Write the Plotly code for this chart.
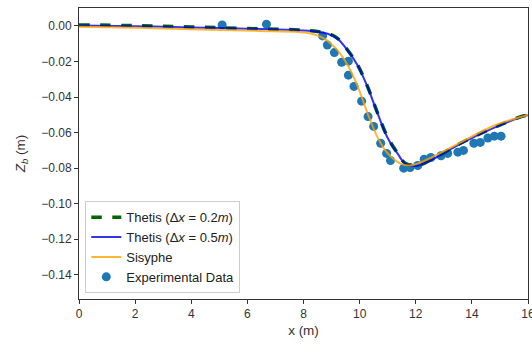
import plotly.graph_objects as go

# Experimental data
exp_x = [5.1, 6.68, 8.68, 8.85, 9.1, 9.36, 9.6, 9.6, 9.8, 10.07, 10.3, 10.5, 10.75,
         10.96, 11.1, 11.57, 11.8, 12.07, 12.3, 12.54, 12.9, 13.14, 13.5, 13.7,
         14.07, 14.3, 14.57, 14.8, 15.04]
exp_y = [0.0006, 0.001, -0.0056, -0.0107, -0.015, -0.0204, -0.0198, -0.0277, -0.034,
         -0.0423, -0.051, -0.0565, -0.066, -0.0717, -0.0757, -0.080, -0.0796, -0.0785,
         -0.075, -0.074, -0.073, -0.0717, -0.071, -0.070, -0.066, -0.0655, -0.063,
         -0.062, -0.062]

# Thetis dx=0.2
t02_x = [0, 2, 4, 6.46, 8.0, 8.5, 8.86, 9.2, 9.57, 9.93, 10.28, 10.64, 11.0, 11.36, 11.64,
         12.07, 12.64, 13.6, 14.8, 15.86, 16]
t02_y = [0.0006, 0.0002, -0.0006, -0.0016, -0.0024, -0.0031, -0.0042, -0.0068, -0.0135,
         -0.022, -0.034, -0.049, -0.0627, -0.0717, -0.0774, -0.0785, -0.0745, -0.066,
         -0.057, -0.0505, -0.0502]

# Thetis dx=0.5
t05_x = [0, 2, 4, 6.46, 8.0, 8.5, 8.86, 9.2, 9.57, 9.93, 10.28, 10.64, 11.0, 11.36, 11.64,
         12.07, 12.64, 13.6, 14.8, 15.86, 16]
t05_y = [0.0003, -0.0001, -0.0008, -0.0017, -0.0025, -0.0032, -0.0044, -0.007, -0.0137,
         -0.0222, -0.0342, -0.0492, -0.063, -0.072, -0.0776, -0.0786, -0.0747, -0.0662,
         -0.0572, -0.0507, -0.0503]

# Sisyphe
sis_x = [0, 2, 4, 6.46, 7.8, 8.25, 8.71, 9.2, 9.57, 9.93, 10.28, 10.64, 11.0, 11.46, 11.82,
         12.43, 13.6, 14.8, 16]
sis_y = [-0.0005, -0.001, -0.0018, -0.0028, -0.0034, -0.0042, -0.0068, -0.0135, -0.022,
         -0.034, -0.049, -0.0627, -0.0717, -0.0774, -0.0785, -0.075, -0.0655, -0.056, -0.050]

x_ticks = [0, 2, 4, 6, 8, 10, 12, 14, 16]
y_ticks = [0.0, -0.02, -0.04, -0.06, -0.08, -0.10, -0.12, -0.14]

font = "Liberation Sans, Arial, sans-serif"

fig = go.Figure()
fig.add_trace(go.Scatter(x=exp_x, y=exp_y, mode="markers", name="Experimental Data",
                         marker=dict(color="#1f77b4", size=9, line=dict(width=0)),
                         legendrank=4))
fig.add_trace(go.Scatter(x=t02_x, y=t02_y, mode="lines", name="Thetis (Δ<i>x</i> = 0.2<i>m</i>)",
                         line=dict(color="#006400", width=3.5, dash="dash", shape="spline"),
                         legendrank=1))
fig.add_trace(go.Scatter(x=t05_x, y=t05_y, mode="lines", name="Thetis (Δ<i>x</i> = 0.5<i>m</i>)",
                         line=dict(color="rgba(0,0,230,0.8)", width=2, shape="spline"),
                         legendrank=2))
fig.add_trace(go.Scatter(x=sis_x, y=sis_y, mode="lines", name="Sisyphe",
                         line=dict(color="rgba(255,165,0,0.8)", width=2, shape="spline"),
                         legendrank=3))

axis_common = dict(showline=True, linecolor="#333333", linewidth=1, mirror=True,
                   ticks="outside", ticklen=4, tickcolor="#333333", showgrid=False,
                   zeroline=False, automargin=False,
                   tickfont=dict(size=12, color="#333333", family=font))

fig.update_layout(
    width=532, height=345,
    margin=dict(l=79, r=4, t=8, b=46),
    paper_bgcolor="white", plot_bgcolor="white",
    font=dict(family=font, color="#333333"),
    xaxis=dict(range=[0, 16], tickvals=x_ticks, ticklabeloverflow="allow", **axis_common,
               title=dict(text="x (m)", font=dict(size=13.5), standoff=5)),
    yaxis=dict(range=[-0.1536, 0.0101], tickvals=y_ticks, tickformat=".2f", **axis_common,
               title=dict(text="<i>Z<sub>b</sub></i> (m)", font=dict(size=13.5), standoff=12)),
    legend=dict(x=0.014, y=0.02, xanchor="left", yanchor="bottom",
                bgcolor="rgba(255,255,255,0.8)", bordercolor="#cccccc", borderwidth=1,
                font=dict(size=13, color="#222222"), itemwidth=30),
    showlegend=True,
)

fig.write_html("out.html")
